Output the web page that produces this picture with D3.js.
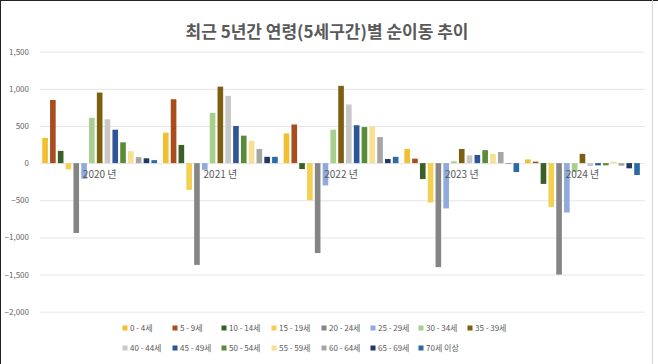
<!DOCTYPE html>
<html>
<head>
<meta charset="utf-8">
<script src="https://cdn.jsdelivr.net/npm/d3@7"></script>
<style>
  html, body { margin: 0; padding: 0; background: #fff; }
  svg { display: block; }
  text { font-family: "Noto Sans CJK KR", "Noto Sans", sans-serif; }
</style>
</head>
<body>
<div id="chart"></div>
<script>
const years = ["2020 년", "2021 년", "2022 년", "2023 년", "2024 년"];
const series = ["0 - 4세", "5 - 9세", "10 - 14세", "15 - 19세", "20 - 24세", "25 - 29세", "30 - 34세", "35 - 39세",
                "40 - 44세", "45 - 49세", "50 - 54세", "55 - 59세", "60 - 64세", "65 - 69세", "70세 이상"];
const colors = ["#F0C030", "#A94C1E", "#3A5F27", "#F3D050", "#858585", "#90AADB", "#A8CF8E", "#7D5F12",
                "#C8C8C8", "#2E5597", "#5A8A3A", "#F7E08F", "#A5A5A5", "#1F3864", "#2A6AA6"];
// values per year, in series order
const v2020 = [340, 850, 165, -85, -940, -210, 610, 950, 590, 450, 280, 160, 80, 65, 40];
const v2021 = [410, 860, 245, -360, -1370, -90, 675, 1030, 905, 500, 370, 300, 190, 85, 85];
const v2022 = [400, 520, -80, -500, -1210, -300, 450, 1040, 790, 510, 485, 490, 350, 55, 85];
const v2023 = [190, 60, -215, -530, -1400, -610, 25, 190, 105, 110, 175, 125, 150, -5, -120];
const v2024 = [50, 20, -280, -590, -1500, -665, -120, 125, -40, -30, -30, 20, -35, -70, -160];
const yTicks = [1500, 1000, 500, 0, -500, -1000, -1500, -2000];
const title = "최근 5년간 연령(5세구간)별 순이동 추이";

const data = [v2020, v2021, v2022, v2023, v2024];

const W = 658, H = 364;
const svg = d3.select("#chart").append("svg").attr("width", W).attr("height", H);
svg.append("rect").attr("width", W).attr("height", H).attr("fill", "#fff");

// frame
svg.append("line").attr("x1", 0).attr("x2", W).attr("y1", 0.5).attr("y2", 0.5).attr("stroke", "#222");
svg.append("line").attr("x1", 0.5).attr("x2", 0.5).attr("y1", 0).attr("y2", H).attr("stroke", "#222");
svg.append("line").attr("x1", 652.5).attr("x2", 652.5).attr("y1", 0).attr("y2", H).attr("stroke", "#d4d4d4");

const y = d3.scaleLinear().domain([-2000, 1500]).range([311.7, 51.7]);
const x0 = d3.scaleBand().domain(years).range([39.3, 642.8]).padding(0);
const x1 = d3.scaleBand().domain(series).range([0, x0.bandwidth()]).paddingInner(0.28).paddingOuter(0.38);
const color = d3.scaleOrdinal().domain(series).range(colors);

// title
svg.append("text").attr("x", 327).attr("y", 38).attr("text-anchor", "middle")
  .attr("font-size", 17).attr("font-weight", "bold").attr("fill", "#595959").text(title);

// gridlines + y labels
const yAxis = d3.axisLeft(y).tickValues(yTicks).tickSize(-(645 - 40)).tickFormat(d3.format(","));
const gy = svg.append("g").attr("transform", "translate(40,0)").call(yAxis);
gy.select(".domain").remove();
gy.selectAll(".tick line").attr("stroke", "#e6e6e6").attr("stroke-width", 1);
gy.selectAll(".tick text").attr("x", -11).attr("fill", "#666").attr("font-size", 8)
  .attr("font-family", "Noto Sans, sans-serif");

// bars
const groups = svg.append("g").selectAll("g").data(years).join("g")
  .attr("transform", d => `translate(${x0(d)},0)`);
groups.selectAll("rect").data((d, i) => series.map((s, j) => ({ s, v: data[i][j] })))
  .join("rect")
  .attr("x", d => x1(d.s))
  .attr("width", x1.bandwidth())
  .attr("y", d => y(Math.max(0, d.v)))
  .attr("height", d => Math.abs(y(d.v) - y(0)))
  .attr("fill", d => color(d.s));

// x category labels (near zero line)
const xAxis = d3.axisBottom(x0).tickSize(0);
const gx = svg.append("g").attr("transform", `translate(0,${y(0)})`).call(xAxis);
gx.select(".domain").remove();
gx.selectAll(".tick text").attr("y", 11).attr("dy", "0.35em").attr("fill", "#595959").attr("font-size", 10)
  .attr("font-family", "Noto Sans CJK KR, sans-serif");

// legend
const legendCols = [125, 175, 224, 274, 324, 373, 421, 470];
const legend = svg.append("g").selectAll("g").data(series).join("g")
  .attr("transform", (d, i) => {
    const row = i < 8 ? 0 : 1;
    const col = i < 8 ? i : i - 8;
    return `translate(${legendCols[col]},${row === 0 ? 328 : 348})`;
  });
legend.append("rect").attr("x", -2.5).attr("y", -2.5).attr("width", 5).attr("height", 5).attr("fill", d => color(d));
legend.append("text").attr("x", 5).attr("y", 0).attr("dy", "0.35em").attr("font-size", 8).attr("fill", "#595959").text(d => d);
</script>
</body>
</html>
